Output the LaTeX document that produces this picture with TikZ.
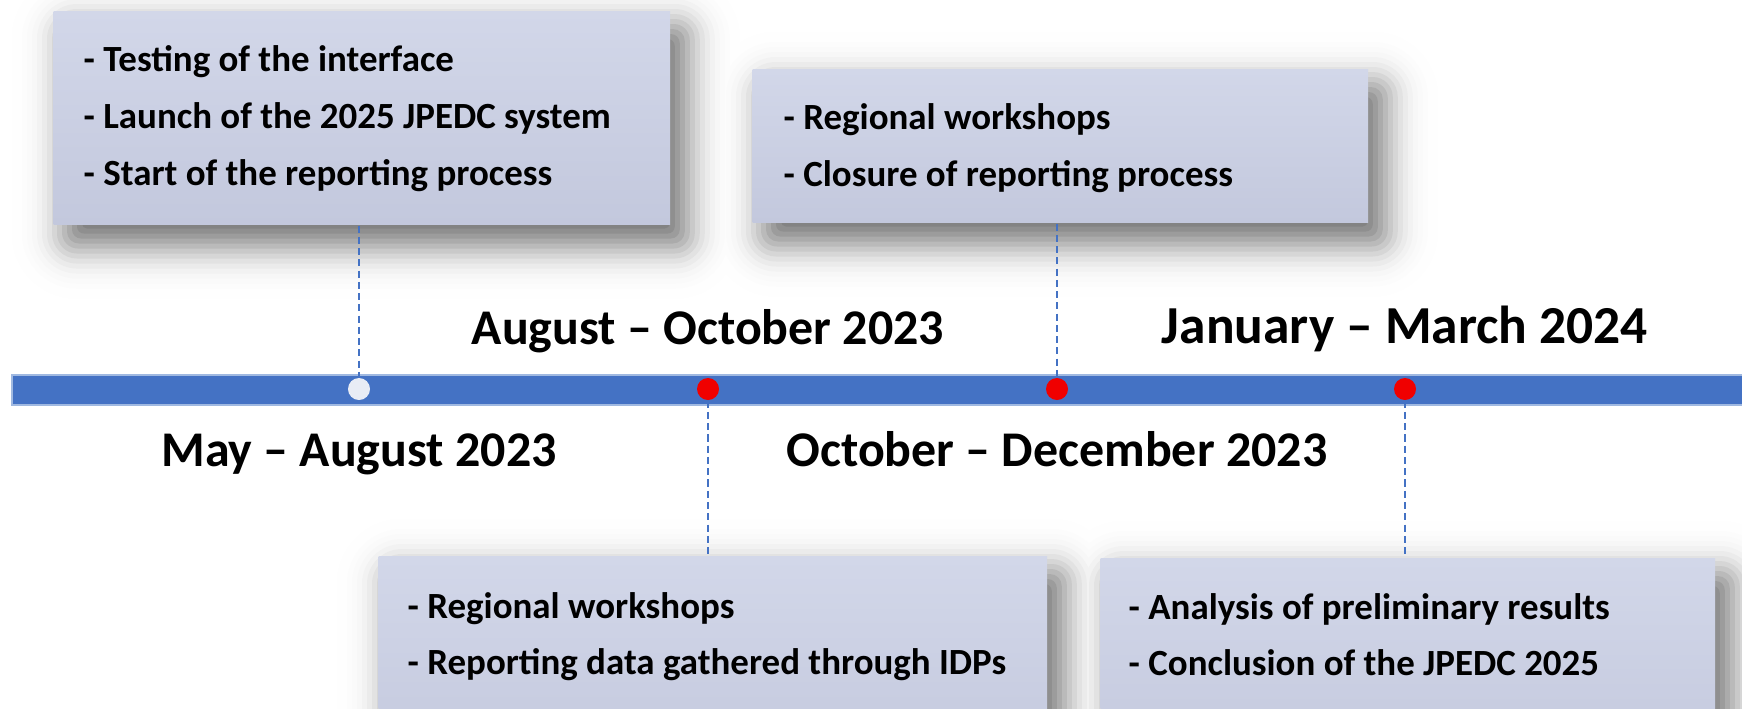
\documentclass[tikz,border=0pt]{standalone}
\usepackage{fontspec}
\setmainfont{Carlito}
\usetikzlibrary{backgrounds}
\definecolor{barblue}{RGB}{68,114,196}
\definecolor{baredge}{RGB}{160,185,225}
\definecolor{boxtop}{RGB}{210,215,233}
\definecolor{boxbot}{RGB}{195,200,221}
\definecolor{dotwhite}{RGB}{232,236,245}
\definecolor{dotred}{RGB}{240,0,0}
\tikzset{
  infobox/.style={anchor=north west, inner sep=0pt, draw=none,
    top color=boxtop, bottom color=boxbot},
  boxline/.style={anchor=base west, inner sep=0pt, font=\fontsize{10.5pt}{12pt}\selectfont\bfseries},
  datelabel/.style={anchor=base, inner sep=0pt, font=\fontsize{14.2pt}{16pt}\selectfont\bfseries},
  dot/.style={circle, inner sep=0pt, minimum size=0.22cm, draw=none},
  conn/.style={draw=barblue, line width=0.35pt, dash pattern=on 2pt off 1.2pt},
}
\begin{document}
\begin{tikzpicture}[x=0.01cm, y=-0.01cm]
\useasboundingbox (0,0) rectangle (1742,708);
\clip (0,0) rectangle (1742,708);

% boxes
\node[infobox, minimum width=6.16cm, minimum height=2.13cm] (box1) at (53,11) {};
\node[infobox, minimum width=6.15cm, minimum height=1.53cm] (box2) at (752,69) {};
\node[infobox, minimum width=6.68cm, minimum height=2.2cm] (box3) at (378,556) {};
\node[infobox, minimum width=6.14cm, minimum height=2.2cm] (box4) at (1100,558) {};

% soft shadows behind the boxes
\begin{pgfonlayer}{background}
\fill[white] (0,0) rectangle (1742,708);
\foreach \d/\p/\r in {60/0.12/70, 55/0.26/65, 50/0.53/60, 45/1.0/55, 40/1.8/50, 35/3.1/45,
                      30/5.1/40, 25/7.8/35, 20/11.4/30, 15/16/25, 10/21.2/20, 5/27/16,
                      0/33/12, -5/38.8/9, -10/44/7, -15/48.5/5, -20/52.2/4, -25/54.9/3,
                      -30/56.9/2, -35/58.2/1}{
  \foreach \b in {box1,box2,box3,box4}{
    \fill[black!\p, rounded corners=\r*0.2845pt]
      ([shift={(14-\d,18-\d)}]\b.north west) rectangle ([shift={(14+\d,18+\d)}]\b.south east);
  }
}
\end{pgfonlayer}

% timeline bar
\node[anchor=north west, inner sep=0pt, minimum width=17.5cm, minimum height=0.30cm,
      fill=barblue, draw=baredge, line width=0.5pt] (bar) at (11,374) {};

% dots
\node[dot, fill=dotwhite] (d1) at (359,389) {};
\node[dot, fill=dotred] (d2) at (708,389) {};
\node[dot, fill=dotred] (d3) at (1057,389) {};
\node[dot, fill=dotred] (d4) at (1405,389) {};

% connectors
\draw[conn] (d1 |- box1.south) -- (d1.north);
\draw[conn] (d3 |- box2.south) -- (d3.north);
\draw[conn] (d2.south) -- (d2 |- box3.north);
\draw[conn] (d4.south) -- (d4 |- box4.north);

% date labels
\node[datelabel] (l1) at (359,466) {May – August 2023};
\node[datelabel] (l2) at (708,344) {August – October 2023};
\node[datelabel] (l3) at (1057,466) {October – December 2023};
\node[datelabel, font=\fontsize{15.2pt}{17pt}\selectfont\bfseries] (l4) at (1405,343) {January – March 2024};

% box texts
\node[boxline] (t11) at (83,71) {- Testing of the interface};
\node[boxline] (t12) at (83,128) {- Launch of the 2025 JPEDC system};
\node[boxline] (t13) at (83,185) {- Start of the reporting process};

\node[boxline] (t21) at (783,129) {- Regional workshops};
\node[boxline] (t22) at (783,186) {- Closure of reporting process};

\node[boxline] (t31) at (407,618) {- Regional workshops};
\node[boxline] (t32) at (407,674) {- Reporting data gathered through IDPs};

\node[boxline] (t41) at (1128,619) {- Analysis of preliminary results};
\node[boxline] (t42) at (1128,675) {- Conclusion of the JPEDC 2025};
\end{tikzpicture}
\end{document}
